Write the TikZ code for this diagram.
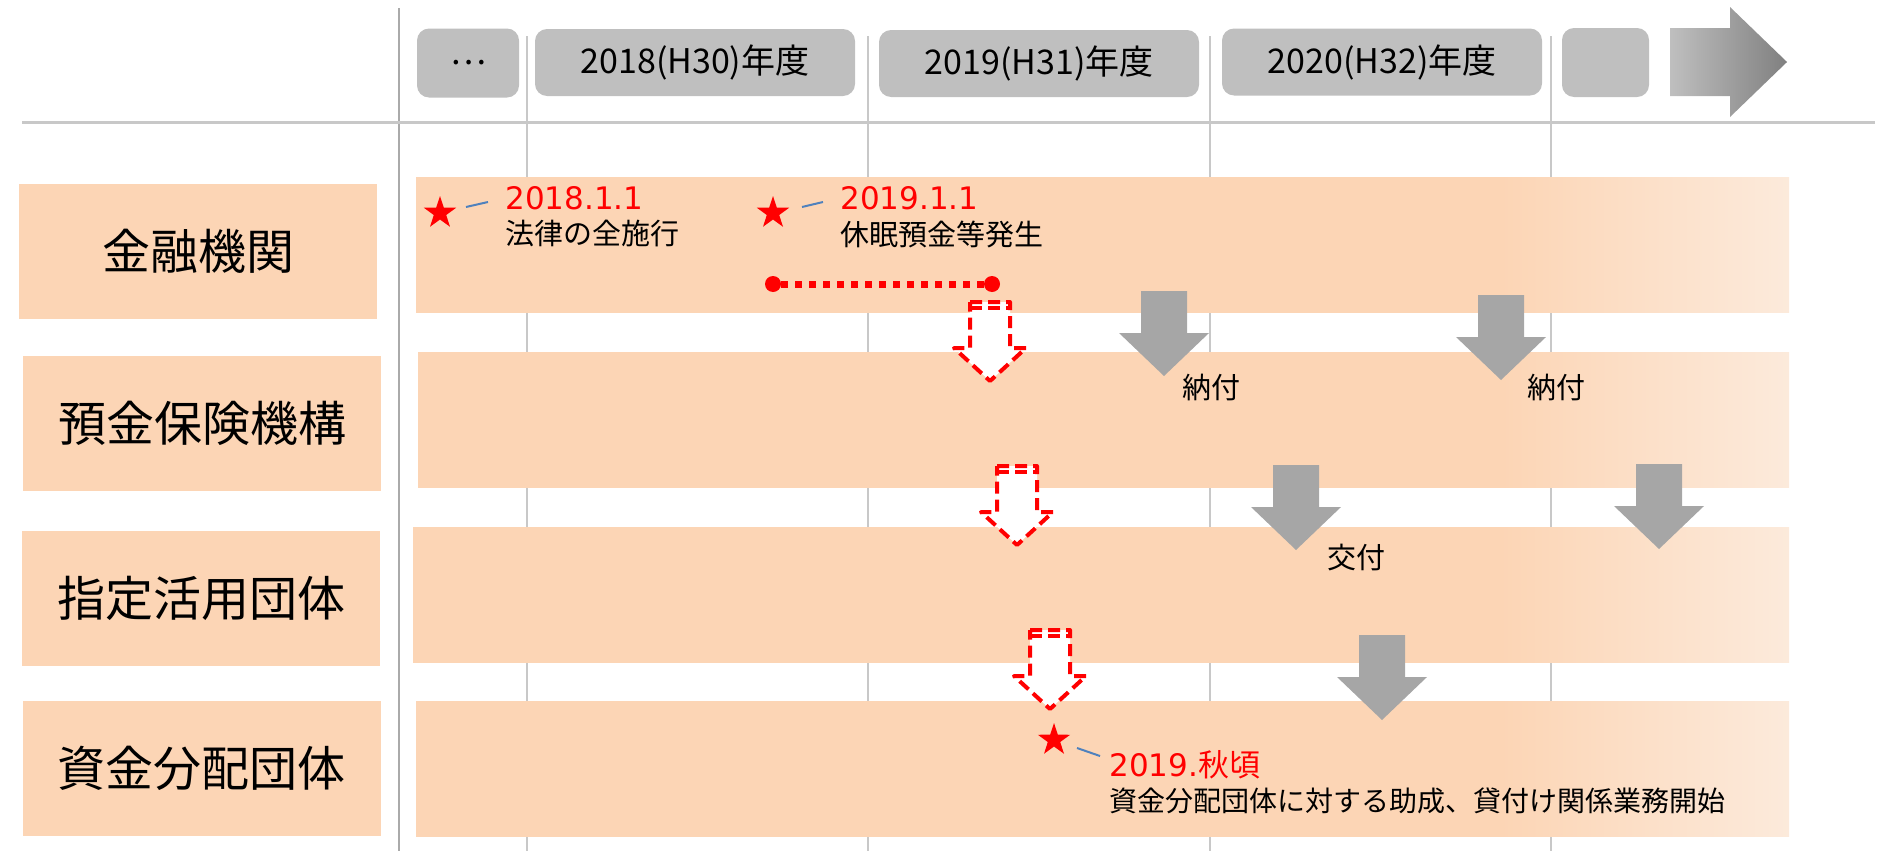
\documentclass[tikz,border=0pt]{standalone}
\usepackage{fontspec}
\setmainfont{Noto Sans CJK JP}
\newfontfamily\datefont{DejaVu Sans}
\usetikzlibrary{shapes.geometric}
\definecolor{peach}{RGB}{252,213,181}
\definecolor{peachlt}{RGB}{252,234,219}
\definecolor{hdrgray}{RGB}{191,191,191}
\definecolor{hdrdark}{RGB}{128,128,128}
\definecolor{arrgray}{RGB}{166,166,166}
\definecolor{gridgray}{RGB}{200,200,200}
\definecolor{axisgray}{RGB}{170,170,170}
\definecolor{leadblue}{RGB}{79,129,189}
\pgfdeclarehorizontalshading{bandfade}{100bp}{color(0bp)=(peach); color(25bp)=(peach); color(64.5bp)=(peach); color(75bp)=(peachlt); color(100bp)=(peachlt)}
\begin{document}
\begin{tikzpicture}[x=0.5pt,y=-0.5pt,line join=round,
	hdr/.style={fill=hdrgray,rounded corners=6pt,minimum height=33.5pt,inner sep=0,font=\fontsize{17}{20}\selectfont},
	lbl/.style={fill=peach,minimum width=179pt,minimum height=67.5pt,inner sep=0,font=\fontsize{24}{28}\selectfont},
	evstar/.style={star,star points=5,star point ratio=2.6,fill=red,minimum size=17pt,inner sep=0},
	evdate/.style={anchor=west,inner sep=0,text=red,font=\datefont\fontsize{15.5}{18}\selectfont},
	evtext/.style={anchor=west,inner sep=0,font=\fontsize{14.5}{17}\selectfont},
	enddot/.style={circle,fill=red,minimum size=8pt,inner sep=0},
	lead/.style={leadblue,line width=1pt},
	garrow/.style={fill=arrgray},
	rarrow/.style={draw=red,fill=white,line width=2pt,dash pattern=on 6pt off 3pt}]
	\useasboundingbox (0,0) rectangle (1878,851);
	% grid
	\foreach \x in {527,868,1210,1551}
	\draw[gridgray,line width=1pt] (\x,36)--(\x,851);
	\draw[axisgray,line width=1.3pt] (399,8)--(399,851);
	\draw[gridgray,line width=1.5pt] (22,122)--(1875,122);
	% header
	\node[hdr,minimum width=51pt,minimum height=34.5pt] (h0) at (468,63) {…};
	\node[hdr,minimum width=160pt] (h1) at (695,62.5) {2018(H30)年度};
	\node[hdr,minimum width=160pt] (h2) at (1039,63.5) {2019(H31)年度};
	\node[hdr,minimum width=160pt] (h3) at (1382,62) {2020(H32)年度};
	\node[hdr,minimum width=43.5pt,minimum height=34.5pt] (h4) at (1605.5,62.5) {};
	\shade[left color=hdrgray,right color=hdrdark] (1670,28)--(1730,28)--(1730,7)--(1787,62)--(1730,117)--(1730,96)--(1670,96)--cycle;
	% rows
	\foreach \t/\l in {177/416,352/418,527/413,701/416}
	\shade[shading=bandfade] (\l,\t) rectangle (1789,\t+135);
	\node[lbl] (fin) at (198,251) {金融機関};
	\node[lbl] (dic) at (202,423.5) {預金保険機構};
	\node[lbl] (des) at (201,598) {指定活用団体};
	\node[lbl] (fund) at (201.5,768) {資金分配団体};
	% flows
	\foreach \cx/\ty in {1164/291,1501/295,1296/465,1659/464,1382/635}
	\fill[garrow] (\cx-23,\ty)--(\cx+23,\ty)--(\cx+23,\ty+42)--(\cx+45,\ty+42)--(\cx,\ty+85)--(\cx-45,\ty+42)--(\cx-23,\ty+42)--cycle;
	\foreach \cx/\ty in {990/302,1017/466,1050/630}{
		\draw[rarrow] (\cx-20,\ty)--(\cx+20,\ty)--(\cx+20,\ty+46)--(\cx+36,\ty+46)--(\cx,\ty+79)--(\cx-36,\ty+46)--(\cx-20,\ty+46)--cycle;
		\draw[rarrow] (\cx-20,\ty+6)--(\cx+20,\ty+6);
	}
	\node[evtext,anchor=center] (pay1) at (1211,387) {納付};
	\node[evtext,anchor=center] (pay2) at (1556,387) {納付};
	\node[evtext,anchor=center] (grant) at (1356,558) {交付};
	% events
	\node[enddot] (p1) at (773,284) {};
	\node[enddot] (p2) at (992,284) {};
	\draw[red,line width=3.5pt,dash pattern=on 3.5pt off 3.5pt] (p1)--(p2);
	\node[evstar] (s1) at (440,213) {};
	\draw[lead] (s1) ++(26,-6) -- ++(22,-5);
	\node[evdate] (d1) at (505,198) {2018.1.1};
	\node[evtext] (t1) at (505,233) {法律の全施行};
	\node[evstar] (s2) at (773,213) {};
	\draw[lead] (s2) ++(29,-6) -- ++(21,-5);
	\node[evdate] (d2) at (840,198) {2019.1.1};
	\node[evtext] (t2) at (840,234) {休眠預金等発生};
	\node[evstar] (s3) at (1054,740) {};
	\draw[lead] (s3) ++(23,8) -- ++(23,8);
	\node[evdate] (d3) at (1109,765) {2019.\rmfamily 秋頃};
	\node[evtext,font=\fontsize{14}{17}\selectfont] (t3) at (1109,801) {資金分配団体に対する助成、貸付け関係業務開始};
\end{tikzpicture}
\end{document}
